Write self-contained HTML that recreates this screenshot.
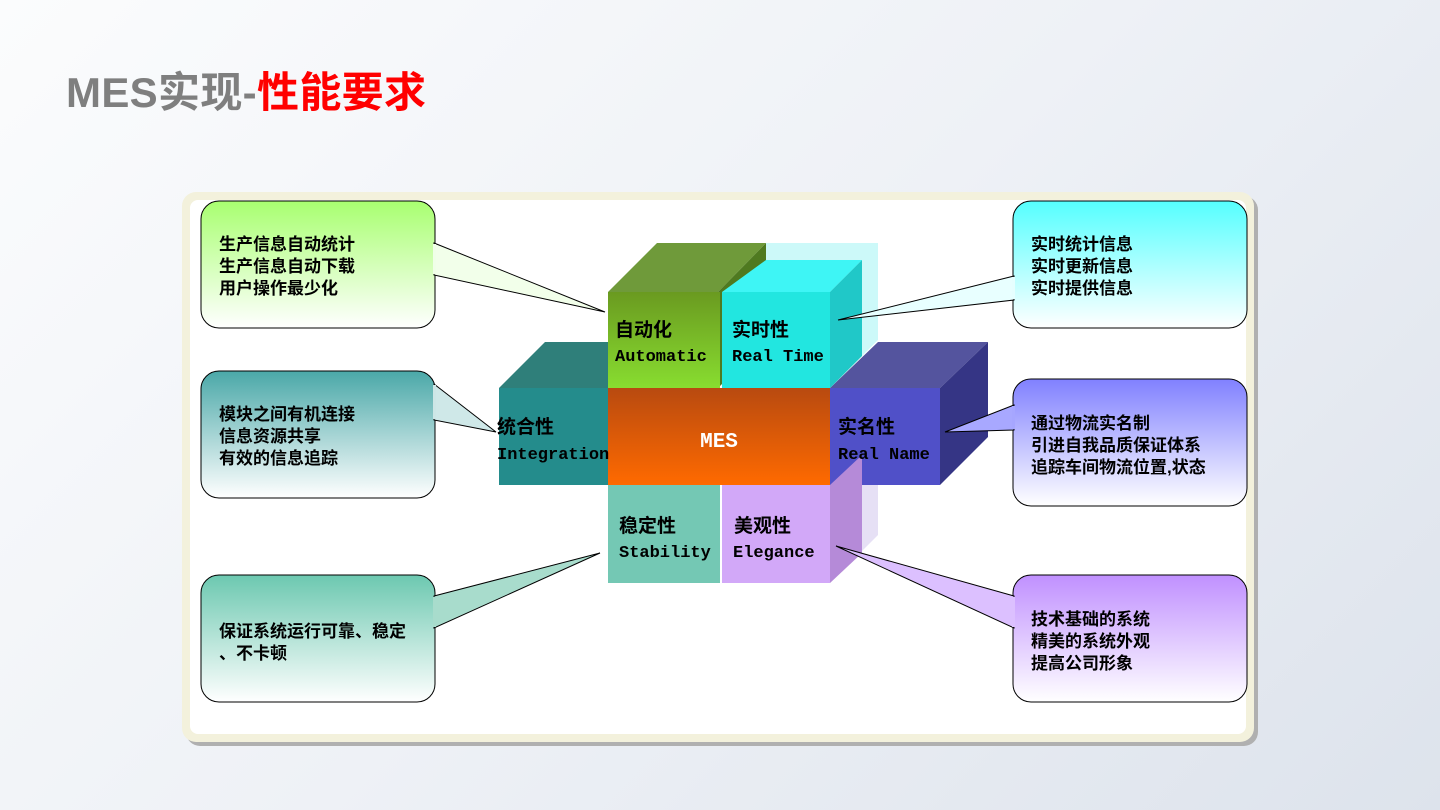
<!DOCTYPE html>
<html><head><meta charset="utf-8"><style>
html,body{margin:0;padding:0;}
body{width:1440px;height:810px;overflow:hidden;background:linear-gradient(135deg,#fbfcfd 0%,#eef1f6 50%,#dde3ec 100%);font-family:"Liberation Sans","Noto Sans CJK SC",sans-serif;}
</style></head><body>
<svg width="1440" height="810" xmlns="http://www.w3.org/2000/svg" style="position:absolute;left:0;top:0">
<defs>
<linearGradient id="g1" x1="0" y1="0" x2="0" y2="1"><stop offset="0" stop-color="#a8ff70"/><stop offset="1" stop-color="#ffffff"/></linearGradient>
<linearGradient id="g2" x1="0" y1="0" x2="0" y2="1"><stop offset="0" stop-color="#4aa8a8"/><stop offset="1" stop-color="#ffffff"/></linearGradient>
<linearGradient id="g3" x1="0" y1="0" x2="0" y2="1"><stop offset="0" stop-color="#6cc8b0"/><stop offset="1" stop-color="#ffffff"/></linearGradient>
<linearGradient id="g4" x1="0" y1="0" x2="0" y2="1"><stop offset="0" stop-color="#55ffff"/><stop offset="1" stop-color="#ffffff"/></linearGradient>
<linearGradient id="g5" x1="0" y1="0" x2="0" y2="1"><stop offset="0" stop-color="#8080ff"/><stop offset="1" stop-color="#ffffff"/></linearGradient>
<linearGradient id="g6" x1="0" y1="0" x2="0" y2="1"><stop offset="0" stop-color="#c090ff"/><stop offset="1" stop-color="#ffffff"/></linearGradient>
<linearGradient id="mes" x1="0" y1="0" x2="0" y2="1"><stop offset="0" stop-color="#b84a10"/><stop offset="1" stop-color="#ff6a00"/></linearGradient>
<linearGradient id="auto" x1="0" y1="0" x2="0" y2="1"><stop offset="0" stop-color="#6a9a20"/><stop offset="1" stop-color="#88dd30"/></linearGradient>
</defs>
<text x="66" y="107" font-size="42" font-weight="bold" fill="#7f7f7f" font-family="Liberation Sans,Noto Sans CJK SC,sans-serif" textLength="360">MES实现-<tspan fill="#ff0000">性能要求</tspan></text>
<rect x="186" y="196" width="1072" height="550" rx="14" fill="#b0b0b0"/>
<rect x="182" y="192" width="1072" height="550" rx="14" fill="#f3f1dc"/>
<rect x="190" y="200" width="1056" height="534" rx="8" fill="#ffffff"/>

<polygon points="766,243 878,243 878,340 830,388 766,388" fill="#bff7f7" opacity="0.8"/>
<polygon points="830,485 878,437 878,535 830,583" fill="#e6e0f5"/>
<polygon points="499,388 545,342 654,342 608,388" fill="#2f7f7a"/>
<rect x="499" y="388" width="109" height="97" fill="#248c8c"/>
<polygon points="830,388 878,342 988,342 940,388" fill="#54549e"/>
<polygon points="940,388 988,342 988,437 940,485" fill="#353585"/>
<rect x="830" y="388" width="110" height="97" fill="#5050c8"/>
<polygon points="608,292 657,243 766,243 718,292" fill="#6f9a3a"/>
<polygon points="718,292 766,243 766,340 718,388" fill="#4f7a20"/>
<rect x="608" y="292" width="112" height="96" fill="url(#auto)"/>
<polygon points="722,292 766,260 862,260 830,292" fill="#3ef5f5"/>
<polygon points="830,292 862,260 862,356 830,388" fill="#20c8c8"/>
<rect x="722" y="292" width="108" height="96" fill="#22e6e0"/>
<rect x="608" y="388" width="222" height="97" fill="url(#mes)"/>
<rect x="608" y="485" width="112" height="98" fill="#74c8b4"/>
<polygon points="830,485 862,455 862,553 830,583" fill="#b58ad8"/>
<rect x="722" y="485" width="108" height="98" fill="#d2a8f8"/>

<g font-family="Liberation Sans,Noto Sans CJK SC,sans-serif" font-weight="bold" font-size="19" fill="#000">
<text x="615" y="336">自动化</text><text x="732" y="336">实时性</text>
<text x="497" y="433">统合性</text><text x="838" y="433">实名性</text>
<text x="619" y="532">稳定性</text><text x="734" y="532">美观性</text>
</g>
<g font-family="Liberation Mono,monospace" font-weight="bold" font-size="17" fill="#000">
<text x="615" y="361">Automatic</text><text x="732" y="361">Real Time</text>
<text x="497" y="459">Integration</text><text x="838" y="459">Real Name</text>
<text x="619" y="557">Stability</text><text x="733" y="557">Elegance</text>
</g>
<text x="719" y="447" text-anchor="middle" font-family="Liberation Mono,monospace" font-weight="bold" font-size="21" fill="#fff">MES</text>

<g stroke="#000" stroke-width="1">
<rect x="201" y="201" width="234" height="127" rx="18" fill="url(#g1)"/>
<polygon points="434,243 605,312 434,275" fill="#f2ffea"/>
<rect x="201" y="371" width="234" height="127" rx="18" fill="url(#g2)"/>
<polygon points="434,384 496,432 434,420" fill="#cfe8e8"/>
<rect x="201" y="575" width="234" height="127" rx="18" fill="url(#g3)"/>
<polygon points="434,596 600,553 434,628" fill="#a8dccc"/>
<rect x="1013" y="201" width="234" height="127" rx="18" fill="url(#g4)"/>
<polygon points="1014,276 838,320 1014,300" fill="#e8ffff"/>
<rect x="1013" y="379" width="234" height="127" rx="18" fill="url(#g5)"/>
<polygon points="1014,405 945,432 1014,430" fill="#a8a8ff"/>
<rect x="1013" y="575" width="234" height="127" rx="18" fill="url(#g6)"/>
<polygon points="1014,596 836,546 1014,628" fill="#dcc0ff"/>
</g>
<g stroke="none">
<rect x="433" y="244" width="3" height="30" fill="#f0ffe8"/>
<rect x="433" y="385" width="3" height="34" fill="#cde6e6"/>
<rect x="433" y="597" width="3" height="30" fill="#a8dccc"/>
<rect x="1012" y="277" width="3" height="22" fill="#e6ffff"/>
<rect x="1012" y="406" width="3" height="23" fill="#a6a6ff"/>
<rect x="1012" y="597" width="3" height="30" fill="#dcc0ff"/>
</g>
<g font-family="Liberation Sans,Noto Sans CJK SC,sans-serif" font-weight="bold" font-size="17" fill="#000">
<text x="219" y="250">生产信息自动统计</text><text x="219" y="272">生产信息自动下载</text><text x="219" y="294">用户操作最少化</text>
<text x="219" y="420">模块之间有机连接</text><text x="219" y="442">信息资源共享</text><text x="219" y="464">有效的信息追踪</text>
<text x="219" y="637">保证系统运行可靠、稳定</text><text x="219" y="659">、不卡顿</text>
<text x="1031" y="250">实时统计信息</text><text x="1031" y="272">实时更新信息</text><text x="1031" y="294">实时提供信息</text>
<text x="1031" y="429">通过物流实名制</text><text x="1031" y="451">引进自我品质保证体系</text><text x="1031" y="473">追踪车间物流位置,状态</text>
<text x="1031" y="625">技术基础的系统</text><text x="1031" y="647">精美的系统外观</text><text x="1031" y="669">提高公司形象</text>
</g>
</svg>
</body></html>
